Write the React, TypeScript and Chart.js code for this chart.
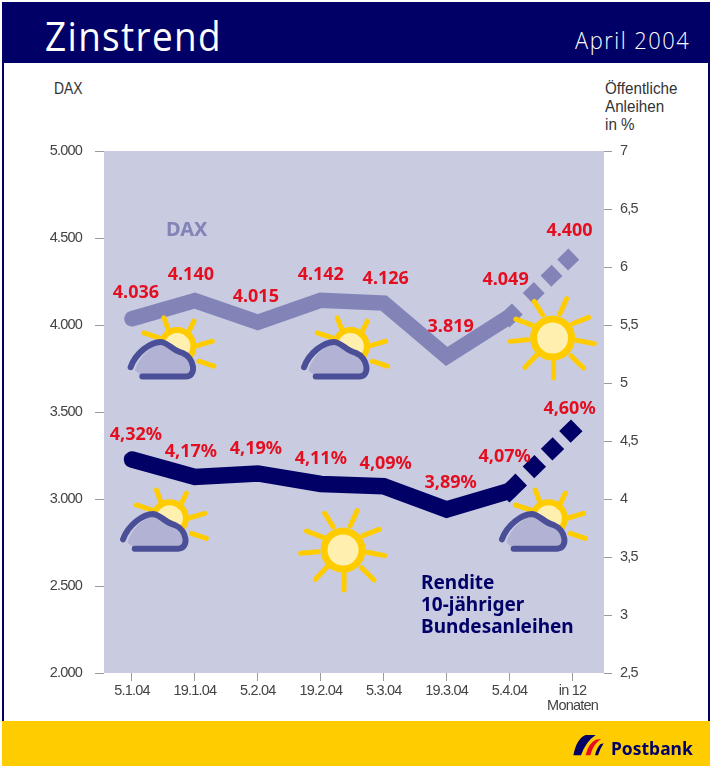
import React, { useEffect, useRef } from "react";
import { Chart, registerables } from "chart.js";

Chart.register(...registerables);

const dates = ["5.1.04", "19.1.04", "5.2.04", "19.2.04", "5.3.04", "19.3.04", "5.4.04", ["in 12", "Monaten"]];
const daxValues = [4036, 4140, 4015, 4142, 4126, 3819, 4049, 4400];
const bondValues = [4.34, 4.19, 4.22, 4.13, 4.11, 3.91, 4.07, 4.6];
const daxLabels = ["4.036", "4.140", "4.015", "4.142", "4.126", "3.819", "4.049", "4.400"];
const bondLabels = ["4,32%", "4,17%", "4,19%", "4,11%", "4,09%", "3,89%", "4,07%", "4,60%"];
const daxLabelOffsets = [[4, -26], [-4, -26], [-2, -26], [0, -25], [2, -24], [4, -30], [-4, -37], [-3, -25]];
const bondLabelOffsets = [[4, -25], [-4, -25], [-2, -25], [0, -25], [2, -22], [4, -27], [-5, -34], [-3, -21]];
const weather = [
  { kind: "cloud", x: 0.72, y: 3878 },
  { kind: "cloud", x: 3.475, y: 3878 },
  { kind: "sun", x: 6.683, y: 3925 },
  { kind: "cloud", x: 0.6, y: 2889 },
  { kind: "sun", x: 3.354, y: 2707 },
  { kind: "cloud", x: 6.62, y: 2889 },
];
const sunRays = [
  [-55, -110, -30, -70], [42, -118, 22, -73], [108, -62, 60, -43], [125, 17, 73, 7], [93, 90, 55, 53],
  [3, 120, 3, 70], [-83, 88, -47, 50], [-127, 10, -75, 5], [-110, -57, -60, -38],
];
const cloudRays = [[-40, -85, -25, -45], [50, -75, 30, -35], [105, -15, 55, 0], [110, 60, 65, 45], [-100, -40, -55, -25]];
const daxDash = [3, 30.6, 0.01, 24.8, 0.01, 23.3, 0.01, 50];
const bondDash = [8, 26.6, 0.01, 25.4, 0.01, 25.6, 0.01, 50];

const NAVY = "#000066";
const DAXC = "#8284b7";
const YELLOW = "#ffcc00";
const SANS = '"Liberation Sans", sans-serif';
const BOLD = '"Noto Sans", sans-serif';

function drawSun(ctx: CanvasRenderingContext2D, cx: number, cy: number, s: number, rays: number[][]) {
  ctx.save();
  ctx.translate(cx, cy);
  ctx.scale(s, s);
  ctx.strokeStyle = YELLOW;
  ctx.lineCap = "round";
  ctx.lineWidth = 5;
  for (const r of rays) {
    ctx.beginPath();
    ctx.moveTo(r[0] / 3, r[1] / 3);
    ctx.lineTo(r[2] / 3, r[3] / 3);
    ctx.stroke();
  }
  ctx.beginPath();
  ctx.arc(0, 0, 19, 0, Math.PI * 2);
  ctx.fillStyle = "#fff0b0";
  ctx.fill();
  ctx.lineWidth = 7;
  ctx.stroke();
  ctx.restore();
}

function drawCloud(ctx: CanvasRenderingContext2D, cx: number, cy: number) {
  drawSun(ctx, cx, cy, 0.85, []);
  ctx.save();
  ctx.translate(cx, cy);
  ctx.strokeStyle = YELLOW;
  ctx.lineCap = "round";
  ctx.lineWidth = 5;
  for (const r of cloudRays) {
    ctx.beginPath();
    ctx.moveTo(r[0] / 3, r[1] / 3);
    ctx.lineTo(r[2] / 3, r[3] / 3);
    ctx.stroke();
  }
  ctx.restore();
  ctx.save();
  ctx.translate(cx - 58.3, cy - 35);
  ctx.scale(1 / 3, 1 / 3);
  ctx.beginPath();
  ctx.moveTo(48, 178);
  ctx.bezierCurveTo(60, 135, 95, 105, 125, 100);
  ctx.bezierCurveTo(150, 105, 160, 125, 195, 135);
  ctx.bezierCurveTo(215, 150, 218, 180, 205, 192);
  ctx.lineTo(70, 195);
  ctx.closePath();
  ctx.fillStyle = "#b2b3d4";
  ctx.fill();
  ctx.strokeStyle = "#4a4f98";
  ctx.lineWidth = 18;
  ctx.lineCap = "round";
  ctx.lineJoin = "round";
  ctx.beginPath();
  ctx.moveTo(35, 168);
  ctx.bezierCurveTo(50, 125, 95, 92, 125, 92);
  ctx.bezierCurveTo(150, 95, 160, 118, 190, 125);
  ctx.bezierCurveTo(228, 140, 234, 196, 200, 196);
  ctx.lineTo(70, 196);
  ctx.stroke();
  ctx.restore();
}

function drawLogo(ctx: CanvasRenderingContext2D) {
  ctx.save();
  ctx.translate(565, 725);
  ctx.scale(1 / 3, 1 / 3);
  const stripe = (color: string, pts: number[]) => {
    ctx.fillStyle = color;
    ctx.beginPath();
    ctx.moveTo(pts[0], pts[1]);
    ctx.quadraticCurveTo(pts[2], pts[3], pts[4], pts[5]);
    ctx.lineTo(pts[6], pts[7]);
    ctx.quadraticCurveTo(pts[8], pts[9], pts[10], pts[11]);
    ctx.closePath();
    ctx.fill();
  };
  stripe(NAVY, [25, 91, 35, 40, 62, 30, 92, 30, 62, 50, 48, 91]);
  stripe("#e30f20", [62, 91, 70, 55, 92, 44, 108, 42, 84, 58, 76, 91]);
  stripe(NAVY, [90, 91, 96, 68, 106, 58, 116, 55, 106, 70, 99, 91]);
  ctx.restore();
}

const decorations = {
  id: "decorations",
  beforeDraw(chart: any) {
    chart.ctx.letterSpacing = "-0.8px";
  },
  beforeDatasetsDraw(chart: any) {
    const { ctx, chartArea: a } = chart;
    ctx.letterSpacing = "0px";
    ctx.save();
    ctx.fillStyle = "#c9cbe1";
    ctx.fillRect(a.left, a.top, a.right - a.left, a.bottom - a.top);
    ctx.restore();
  },
  afterDatasetsDraw(chart: any) {
    const { ctx, scales } = chart;
    for (const w of weather) {
      const px = scales.x.getPixelForValue(w.x);
      const py = scales.yDax.getPixelForValue(w.y);
      if (w.kind === "sun") drawSun(ctx, px, py, 1, sunRays);
      else drawCloud(ctx, px, py);
    }
    ctx.save();
    ctx.fillStyle = "#e30f20";
    ctx.font = `bold 18px ${BOLD}`;
    ctx.textAlign = "center";
    ctx.textBaseline = "middle";
    daxLabels.forEach((t, i) => {
      ctx.fillText(t, scales.x.getPixelForValue(i) + daxLabelOffsets[i][0], scales.yDax.getPixelForValue(daxValues[i]) + daxLabelOffsets[i][1]);
    });
    bondLabels.forEach((t, i) => {
      ctx.fillText(t, scales.x.getPixelForValue(i) + bondLabelOffsets[i][0], scales.yBond.getPixelForValue(bondValues[i]) + bondLabelOffsets[i][1]);
    });
    ctx.restore();
    drawLogo(ctx);
  },
};

const lineStyle = (color: string, width: number, dash: number[]) => ({
  borderColor: color,
  borderWidth: width,
  pointRadius: 0,
  tension: 0,
  borderJoinStyle: "miter" as const,
  segment: {
    borderDash: (c: any) => (c.p0DataIndex === 6 ? dash : undefined),
    borderCapStyle: (c: any) => (c.p0DataIndex === 6 ? "square" : "round"),
  },
});

const tickGrid = { drawOnChartArea: false, drawTicks: true, tickColor: "#9a9a9a", tickWidth: 1 };
const tickFont = { family: SANS, size: 14.5 };

export default function App() {
  const ref = useRef<HTMLCanvasElement>(null);
  useEffect(() => {
    document.body.style.margin = "0";
    const chart = new Chart(ref.current!, {
      type: "line",
      data: {
        datasets: [
          { label: "DAX", yAxisID: "yDax", data: daxValues.map((y, x) => ({ x, y })), ...lineStyle(DAXC, 15.5, daxDash) },
          { label: "Rendite 10-jähriger Bundesanleihen", yAxisID: "yBond", data: bondValues.map((y, x) => ({ x, y })), ...lineStyle(NAVY, 16.5, bondDash) },
        ] as any,
      },
      options: {
        animation: false,
        responsive: false,
        layout: { padding: { top: 151, left: 0, right: 0, bottom: 0 } },
        plugins: { legend: { display: false }, tooltip: { enabled: false }, title: { display: false } },
        scales: {
          x: {
            type: "linear",
            min: -0.444,
            max: 7.5,
            afterBuildTicks: (s: any) => { s.ticks = dates.map((_, i) => ({ value: i })); },
            afterFit: (s: any) => { s.height = 94; },
            border: { display: false },
            grid: { ...tickGrid, tickLength: 8 },
            ticks: { color: "#444", font: { ...tickFont, lineHeight: 1.07 }, padding: 2, maxRotation: 0, autoSkip: false, callback: (v: any) => dates[v] as any },
          },
          yDax: {
            position: "left",
            min: 2000,
            max: 5000,
            afterFit: (s: any) => { s.width = 104; },
            border: { display: false },
            grid: { ...tickGrid, tickLength: 9 },
            ticks: { color: "#444", font: tickFont, padding: 13, stepSize: 500, callback: (v: any) => String(v).replace(/(\d)(\d{3})$/, "$1.$2") },
          },
          yBond: {
            position: "right",
            min: 2.5,
            max: 7,
            afterFit: (s: any) => { s.width = 106; },
            border: { display: false },
            grid: { ...tickGrid, tickLength: 8 },
            ticks: { color: "#444", font: tickFont, padding: 8, stepSize: 0.5, callback: (v: any) => String(v).replace(".", ",") },
          },
        } as any,
      },
      plugins: [decorations],
    });
    return () => chart.destroy();
  }, []);

  const abs = (o: React.CSSProperties): React.CSSProperties => ({ position: "absolute", whiteSpace: "pre", transformOrigin: "left", ...o });
  return (
    <div style={{ position: "relative", width: 710, height: 767, overflow: "hidden", background: "#fff" }}>
      <div style={abs({ left: 2, top: 2, width: 708, height: 719, boxSizing: "border-box", borderLeft: `2px solid ${NAVY}`, borderRight: `2px solid ${NAVY}` })} />
      <div style={abs({ left: 2, top: 2, width: 708, height: 61, background: NAVY })} />
      <div style={abs({ left: 2, top: 721, width: 708, height: 45, background: YELLOW })} />
      <div style={abs({ left: 45, top: 7, color: "#fff", fontFamily: '"Open Sans", sans-serif', fontWeight: 400, fontSize: 41, letterSpacing: 1.5, lineHeight: "56px", transform: "scaleX(0.9)" })}>Zinstrend</div>
      <div style={abs({ left: 575, top: 24, color: "#fff", fontFamily: '"Open Sans", sans-serif', fontWeight: 300, fontSize: 23, letterSpacing: 1.6, lineHeight: "32px", transform: "scaleX(0.95)" })}>April 2004</div>
      <div style={abs({ left: 54, top: 80, color: "#333", fontFamily: SANS, fontSize: 16, lineHeight: "18px", transform: "scaleX(0.87)" })}>DAX</div>
      <div style={abs({ left: 605, top: 80, color: "#333", fontFamily: SANS, fontSize: 16, lineHeight: "18px", transform: "scaleX(0.95)" })}>{"Öffentliche\nAnleihen\nin %"}</div>
      <canvas ref={ref} width={710} height={767} style={{ position: "absolute", left: 0, top: 0, width: 710, height: 767 }} />
      <div style={abs({ left: 166, top: 214, color: DAXC, fontFamily: BOLD, fontWeight: 700, fontSize: 20, lineHeight: "30px" })}>DAX</div>
      <div style={abs({ left: 421, top: 571, color: NAVY, fontFamily: BOLD, fontWeight: 700, fontSize: 20, lineHeight: "22px", transform: "scaleX(0.95)" })}>{"Rendite\n10-jähriger\nBundesanleihen"}</div>
      <div style={abs({ left: 611, top: 734, color: NAVY, fontFamily: BOLD, fontWeight: 700, fontSize: 18, lineHeight: "28px", transform: "scaleX(0.97)" })}>Postbank</div>
    </div>
  );
}
